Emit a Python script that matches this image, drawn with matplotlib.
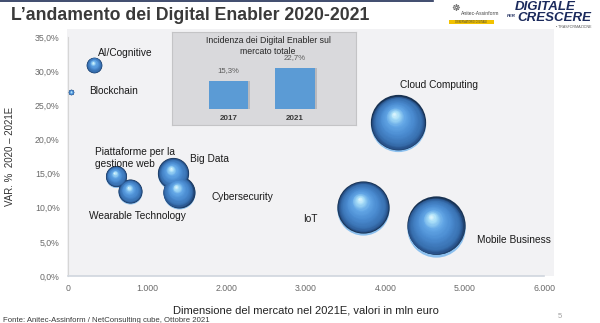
import matplotlib
matplotlib.use("Agg")
import matplotlib.pyplot as plt
import matplotlib.transforms as mtransforms
from matplotlib.patches import Rectangle
from matplotlib.lines import Line2D
from matplotlib.ticker import FuncFormatter, MultipleLocator
import numpy as np

plt.rcParams['font.family'] = ['Liberation Sans', 'DejaVu Sans']

# ---------------- data ----------------
enablers = ["Blockchain", "AI/Cognitive", "Piattaforme per la\ngestione web",
            "Wearable Technology", "Big Data", "Cybersecurity",
            "Cloud Computing", "IoT", "Mobile Business"]
market_2021 = [40, 331, 605, 785, 1326, 1394, 4165, 3724, 4635]      # mln euro
var_pct = [26.9, 30.9, 14.6, 12.4, 15.0, 12.3, 22.4, 10.0, 7.3]         # %

# label anchor positions (data coords, left edge / vertical centre)
label_x = [268, 382, 336, 268, 1537, 1814, 4181, 2963, 5160]
label_y = [27.1, 32.6, 17.3, 8.8, 17.2, 11.5, 28.0, 8.35, 5.27]

inset_years = ["2017", "2021"]
inset_values = [15.3, 22.7]
inset_labels = ["15,3%", "22,7%"]

# ---------------- figure ----------------
W, H = 600, 323
fig = plt.figure(figsize=(W / 100, H / 100), dpi=100)
fig.patch.set_facecolor("white")

def fx(px):
    return px / W

def fy(py):
    return 1 - py / H

# grey chart-area background
fig.patches.append(Rectangle((fx(67), fy(276)), fx(554) - fx(67), fy(29) - fy(276),
                             transform=fig.transFigure, facecolor="#f2f2f4",
                             edgecolor="none", zorder=-10))
# thin top line
fig.lines.append(Line2D([0, fx(433)], [fy(0.6), fy(0.6)], transform=fig.transFigure,
                        color="#1f2d55", lw=1.2))

ax = fig.add_axes([fx(68), fy(276), fx(544) - fx(68), fy(37) - fy(276)])
ax.set_facecolor("none")
ax.set_xlim(0, 6000)
ax.set_ylim(0, 35)
ax.xaxis.set_major_locator(MultipleLocator(1000))
ax.yaxis.set_major_locator(MultipleLocator(5))
ax.xaxis.set_major_formatter(FuncFormatter(lambda v, p: f"{int(round(v)):,}".replace(",", ".")))
ax.yaxis.set_major_formatter(FuncFormatter(lambda v, p: f"{v:.1f}%".replace(".", ",")))
ax.tick_params(length=0, labelsize=6.3, labelcolor="#6a6a6a")
ax.tick_params(axis="y", pad=6)
ax.tick_params(axis="x", pad=6)
for s in ("top", "right"):
    ax.spines[s].set_visible(False)
ax.spines["left"].set_color("#d6d6d6")
ax.spines["left"].set_linewidth(0.8)
ax.spines["bottom"].set_color("#d0d6de")
ax.spines["bottom"].set_linewidth(1.2)

ax.set_xlabel("Dimensione del mercato nel 2021E, valori in mln euro", fontsize=8,
              color="#222222", labelpad=9)
ax.set_ylabel("VAR. %  2020 \u2013 2021E", fontsize=7, color="#333333", labelpad=14)

# ---------------- spheres ----------------
size_scale = 0.38  # points^2 per mln euro
stops_k = [1.0, 0.95, 0.85, 0.6, 0.35, 0.15, 0.0]
stops_c = ["#183252", "#28528a", "#3870b0", "#4a8bd0", "#62a6e6", "#a8def8", "#ecfcff"]

def hex2rgb(h):
    h = h.lstrip("#")
    return np.array([int(h[i:i + 2], 16) / 255 for i in (0, 2, 4)])

stops_rgb = [hex2rgb(c) for c in stops_c]

def color_at(k):
    for i in range(len(stops_k) - 1):
        k0, k1 = stops_k[i], stops_k[i + 1]
        if k0 >= k >= k1:
            t = (k0 - k) / (k0 - k1)
            return stops_rgb[i] * (1 - t) + stops_rgb[i + 1] * t
    return stops_rgb[-1]

def off(dx_pt, dy_pt):
    return ax.transData + mtransforms.ScaledTranslation(dx_pt / 72, dy_pt / 72, fig.dpi_scale_trans)

ks = np.linspace(1.0, 0.04, 36)
for x, y in zip(market_2021, var_pct):
    s = size_scale * x
    r = np.sqrt(s) / 2  # radius in points
    # light reflection at bottom edge
    ax.scatter([x], [y], s=s, color="#8cc0ee", linewidths=0, zorder=3,
               transform=off(0, -0.05 * r), clip_on=False)
    hx, hy = -0.16 * r, 0.34 * r
    for i, k in enumerate(ks):
        dy_extra = 0.03 * r if i == 0 else 0
        ax.scatter([x], [y], s=s * k * k, color=color_at(k), linewidths=0,
                   zorder=4 + i * 0.01,
                   transform=off(hx * (1 - k), hy * (1 - k) + dy_extra),
                   clip_on=False)

for name, lx, ly in zip(enablers, label_x, label_y):
    ax.text(lx, ly, name, fontsize=7.3, color="#1a1a1a", ha="left", va="center",
            linespacing=1.3, zorder=10)

# ---------------- inset ----------------
box = fig.add_axes([fx(172), fy(125), fx(356) - fx(172), fy(32) - fy(125)])
box.set_facecolor("#d9d9dc")
box.set_xticks([])
box.set_yticks([])
for s in box.spines.values():
    s.set_color("#c4c4c6")
    s.set_linewidth(0.8)
box.text(fx(268), fy(40.7), "Incidenza dei Digital Enabler sul", transform=fig.transFigure,
         fontsize=6.3, color="#262626", ha="center", va="center")
box.text(fx(268), fy(51), "mercato totale", transform=fig.transFigure,
         fontsize=6.3, color="#262626", ha="center", va="center")

bx = fig.add_axes([fx(195.5), fy(109), fx(328.2) - fx(195.5), fy(64) - fy(109)])
bx.set_facecolor("none")
bx.set_xlim(-0.5, 1.5)
bx.set_ylim(0, 25)
xpos = np.arange(len(inset_years))
bars = bx.bar(xpos, inset_values, width=0.59, color="#5b9bd5", edgecolor="none", zorder=3)
# subtle shadow
bx.bar(xpos + 0.03, inset_values, width=0.59, color="#b9b9bd", edgecolor="none", zorder=2)
bx.bar_label(bars, labels=inset_labels, padding=5, fontsize=5.6, color="#5a5a5a")
bx.set_xticks(xpos)
bx.set_xticklabels(inset_years, fontsize=5.8, fontweight="bold", color="#3a3a3a")
bx.tick_params(length=0, pad=4)
bx.set_yticks([])
for s in bx.spines.values():
    s.set_visible(False)

# ---------------- header / footer ----------------
fig.text(fx(11), fy(16), "L\u2019andamento dei Digital Enabler 2020-2021", fontsize=12.7,
         fontweight="bold", color="#3a3a3a", ha="left", va="center")

# logos (as text)
fig.text(fx(545), fy(7.5), "DIGITALE", fontsize=9.5, fontweight="bold", fontstyle="italic",
         color="#1b2a5c", ha="center", va="center")
fig.text(fx(554), fy(18), "CRESCERE", fontsize=9.5, fontweight="bold", fontstyle="italic",
         color="#1b2a5c", ha="center", va="center")
fig.text(fx(511), fy(16), "PER", fontsize=3.2, fontweight="bold", fontstyle="italic",
         color="#1b2a5c", ha="center", va="center")
fig.text(fx(574), fy(27.5), "\u2022 TRASFORMAZIONE", fontsize=2.6, color="#555555",
         ha="center", va="center")
fig.text(fx(480), fy(13.5), "Anitec-Assinform", fontsize=3.6, color="#444444",
         ha="center", va="center")
fig.text(fx(456), fy(8), "\u2638", fontsize=7, color="#555555", ha="center", va="center")
fig.patches.append(Rectangle((fx(449), fy(24)), fx(494) - fx(449), fy(20.5) - fy(24),
                             transform=fig.transFigure, facecolor="#f2c200",
                             edgecolor="none"))
fig.text(fx(471), fy(22.2), "OSSERVATORIO DIGITALE", fontsize=1.8, color="#3a3a3a",
         ha="center", va="center")

fig.text(fx(3), fy(321), "Fonte: Anitec-Assinform / NetConsulting cube, Ottobre 2021",
         fontsize=5.6, color="#3a3a3a", ha="left", va="center")
fig.text(fx(560), fy(316), "5", fontsize=5.5, color="#a0a0a0", ha="center", va="center")

fig.savefig("out.png", dpi=100)
